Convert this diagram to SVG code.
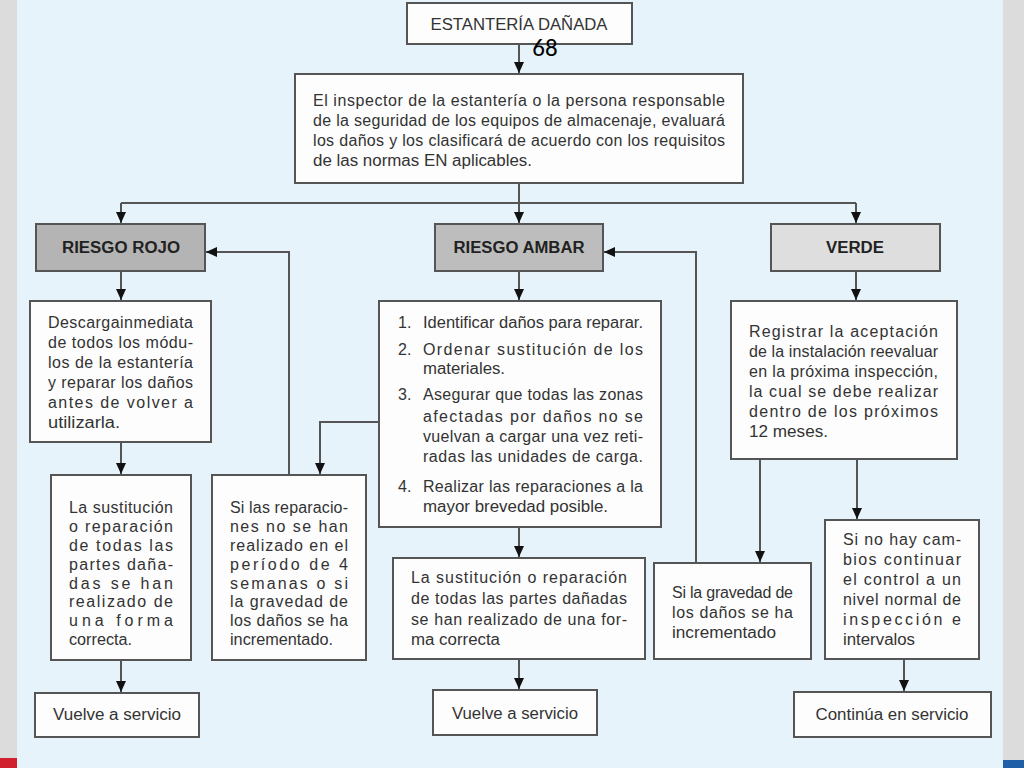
<svg xmlns="http://www.w3.org/2000/svg" width="1024" height="768" viewBox="0 0 1024 768">
<defs>
<marker id="ah" markerUnits="userSpaceOnUse" markerWidth="12" markerHeight="10" refX="11" refY="5" orient="auto">
<path d="M0,0 L11,5 L0,10 z" fill="#111"/>
</marker>
<style>
.box{fill:#fdfdfd;stroke:#555;stroke-width:2}
.g1{fill:#b4b4b4;stroke:#555;stroke-width:2}
.g2{fill:#bdbdbd;stroke:#555;stroke-width:2}
.g3{fill:#dedede;stroke:#555;stroke-width:2}
.t{font-family:"Liberation Sans",Arial,sans-serif;font-size:16px;fill:#333}
.c{text-anchor:middle}
.b{font-weight:bold;fill:#222}
.ln{fill:none;stroke:#555;stroke-width:2}
.ar{fill:none;stroke:#555;stroke-width:2;marker-end:url(#ah)}
</style>
</defs>
<rect x="0" y="0" width="1024" height="768" fill="#dcdcdc"/>
<rect x="17" y="0" width="986" height="768" fill="#e6f3fb"/>
<rect x="0" y="758" width="17" height="10" fill="#d0202e"/>
<rect x="1003" y="760" width="21" height="8" fill="#1f5fa8"/>

<g id="connectors">
<path class="ar" d="M519,44 V73"/>
<path class="ar" d="M519,183 V223"/>
<path class="ln" d="M121,203 H856"/>
<path class="ar" d="M121,203 V223"/>
<path class="ar" d="M856,203 V223"/>
<path class="ar" d="M121,271 V300"/>
<path class="ar" d="M519,271 V300"/>
<path class="ar" d="M856,271 V300"/>
<path class="ar" d="M121,442 V474"/>
<path class="ar" d="M121,660 V692"/>
<path class="ar" d="M289,475 V252 H206"/>
<path class="ar" d="M379,422 H320 V474"/>
<path class="ar" d="M519,527 V557"/>
<path class="ar" d="M519,659 V689"/>
<path class="ar" d="M696,563 V252 H604"/>
<path class="ar" d="M760,459 V562"/>
<path class="ar" d="M857,459 V519"/>
<path class="ar" d="M904,659 V691"/>
</g>

<g id="estanteria">
<rect class="box" x="407" y="3" width="225" height="41"/>
<text class="t c" x="519" y="30" textLength="177" lengthAdjust="spacingAndGlyphs">ESTANTERÍA DAÑADA</text>
</g>
<text x="545" y="56" font-family="Carlito,'Open Sans','Liberation Sans',sans-serif" font-size="25" fill="#000" text-anchor="middle">68</text>

<g id="inspector">
<rect class="box" x="295" y="74" width="448" height="109"/>
<text class="t" x="313" y="106" textLength="412" lengthAdjust="spacing">El inspector de la estantería o la persona responsable</text>
<text class="t" x="313" y="126" textLength="412" lengthAdjust="spacing">de la seguridad de los equipos de almacenaje, evaluará</text>
<text class="t" x="313" y="146" textLength="412" lengthAdjust="spacing">los daños y los clasificará de acuerdo con los requisitos</text>
<text class="t" x="313" y="166" textLength="219" lengthAdjust="spacingAndGlyphs">de las normas EN aplicables.</text>
</g>

<g id="riesgo-rojo">
<rect class="g1" x="36" y="224" width="169" height="47"/>
<text class="t c b" x="121" y="253" textLength="118" lengthAdjust="spacingAndGlyphs">RIESGO ROJO</text>
</g>
<g id="riesgo-ambar">
<rect class="g2" x="435" y="224" width="168" height="47"/>
<text class="t c b" x="519" y="253" textLength="131" lengthAdjust="spacingAndGlyphs">RIESGO AMBAR</text>
</g>
<g id="verde">
<rect class="g3" x="771" y="224" width="169" height="47"/>
<text class="t c b" x="855" y="253" textLength="58" lengthAdjust="spacingAndGlyphs">VERDE</text>
</g>

<g id="descarga">
<rect class="box" x="30" y="301" width="181" height="141"/>
<text class="t" x="48" y="328" textLength="145" lengthAdjust="spacing">Descargainmediata</text>
<text class="t" x="48" y="348" textLength="145" lengthAdjust="spacing">de todos los módu-</text>
<text class="t" x="48" y="368" textLength="145" lengthAdjust="spacing">los de la estantería</text>
<text class="t" x="48" y="388" textLength="145" lengthAdjust="spacing">y reparar los daños</text>
<text class="t" x="48" y="408" textLength="145" lengthAdjust="spacing">antes de volver a</text>
<text class="t" x="48" y="428" textLength="72" lengthAdjust="spacingAndGlyphs">utilizarla.</text>
</g>

<g id="sustitucion-rojo">
<rect class="box" x="51" y="475" width="140" height="185"/>
<text class="t" x="69" y="513" textLength="104" lengthAdjust="spacing">La sustitución</text>
<text class="t" x="69" y="532" textLength="104" lengthAdjust="spacing">o reparación</text>
<text class="t" x="69" y="551" textLength="104" lengthAdjust="spacing">de todas las</text>
<text class="t" x="69" y="570" textLength="104" lengthAdjust="spacing">partes daña-</text>
<text class="t" x="69" y="589" textLength="104" lengthAdjust="spacing">das se han</text>
<text class="t" x="69" y="607" textLength="104" lengthAdjust="spacing">realizado de</text>
<text class="t" x="69" y="626" textLength="104" lengthAdjust="spacing">una forma</text>
<text class="t" x="69" y="645" textLength="63" lengthAdjust="spacingAndGlyphs">correcta.</text>
</g>

<g id="vuelve-rojo">
<rect class="box" x="35" y="693" width="164" height="44"/>
<text class="t c" x="117" y="720" textLength="128" lengthAdjust="spacingAndGlyphs">Vuelve a servicio</text>
</g>

<g id="si-reparaciones">
<rect class="box" x="212" y="475" width="154" height="185"/>
<text class="t" x="230" y="513" textLength="118" lengthAdjust="spacing">Si las reparacio-</text>
<text class="t" x="230" y="532" textLength="118" lengthAdjust="spacing">nes no se han</text>
<text class="t" x="230" y="551" textLength="118" lengthAdjust="spacing">realizado en el</text>
<text class="t" x="230" y="570" textLength="118" lengthAdjust="spacing">período de 4</text>
<text class="t" x="230" y="589" textLength="118" lengthAdjust="spacing">semanas o si</text>
<text class="t" x="230" y="607" textLength="118" lengthAdjust="spacing">la gravedad de</text>
<text class="t" x="230" y="626" textLength="118" lengthAdjust="spacing">los daños se ha</text>
<text class="t" x="230" y="645" textLength="103" lengthAdjust="spacingAndGlyphs">incrementado.</text>
</g>

<g id="lista-ambar">
<rect class="box" x="379" y="301" width="282" height="226"/>
<text class="t" x="398" y="328">1.</text>
<text class="t" x="423" y="328" textLength="220" lengthAdjust="spacingAndGlyphs">Identificar daños para reparar.</text>
<text class="t" x="398" y="355">2.</text>
<text class="t" x="423" y="355" textLength="220" lengthAdjust="spacing">Ordenar sustitución de los</text>
<text class="t" x="423" y="374" textLength="82" lengthAdjust="spacingAndGlyphs">materiales.</text>
<text class="t" x="398" y="400">3.</text>
<text class="t" x="423" y="400" textLength="220" lengthAdjust="spacing">Asegurar que todas las zonas</text>
<text class="t" x="423" y="422" textLength="220" lengthAdjust="spacing">afectadas por daños no se</text>
<text class="t" x="423" y="442" textLength="220" lengthAdjust="spacing">vuelvan a cargar una vez reti-</text>
<text class="t" x="423" y="462" textLength="220" lengthAdjust="spacing">radas las unidades de carga.</text>
<text class="t" x="398" y="492">4.</text>
<text class="t" x="423" y="492" textLength="220" lengthAdjust="spacing">Realizar las reparaciones a la</text>
<text class="t" x="423" y="512" textLength="185" lengthAdjust="spacingAndGlyphs">mayor brevedad posible.</text>
</g>

<g id="sustitucion-ambar">
<rect class="box" x="393" y="558" width="252" height="101"/>
<text class="t" x="411" y="583" textLength="216" lengthAdjust="spacing">La sustitución o reparación</text>
<text class="t" x="411" y="604" textLength="216" lengthAdjust="spacing">de todas las partes dañadas</text>
<text class="t" x="411" y="625" textLength="216" lengthAdjust="spacing">se han realizado de una for-</text>
<text class="t" x="411" y="645" textLength="89" lengthAdjust="spacingAndGlyphs">ma correcta</text>
</g>

<g id="vuelve-ambar">
<rect class="box" x="433" y="690" width="164" height="45"/>
<text class="t c" x="515" y="719" textLength="126" lengthAdjust="spacingAndGlyphs">Vuelve a servicio</text>
</g>

<g id="registrar">
<rect class="box" x="731" y="301" width="226" height="158"/>
<text class="t" x="749" y="337" textLength="189" lengthAdjust="spacing">Registrar la aceptación</text>
<text class="t" x="749" y="357" textLength="189" lengthAdjust="spacing">de la instalación reevaluar</text>
<text class="t" x="749" y="377" textLength="189" lengthAdjust="spacing">en la próxima inspección,</text>
<text class="t" x="749" y="397" textLength="189" lengthAdjust="spacing">la cual se debe realizar</text>
<text class="t" x="749" y="417" textLength="189" lengthAdjust="spacing">dentro de los próximos</text>
<text class="t" x="749" y="437" textLength="79" lengthAdjust="spacingAndGlyphs">12 meses.</text>
</g>

<g id="si-gravedad">
<rect class="box" x="654" y="563" width="157" height="96"/>
<text class="t" x="672" y="598" textLength="121" lengthAdjust="spacing">Si la gravedad de</text>
<text class="t" x="672" y="618" textLength="121" lengthAdjust="spacing">los daños se ha</text>
<text class="t" x="672" y="638" textLength="104" lengthAdjust="spacingAndGlyphs">incrementado</text>
</g>

<g id="si-no-cambios">
<rect class="box" x="825" y="520" width="154" height="139"/>
<text class="t" x="843" y="545" textLength="118" lengthAdjust="spacing">Si no hay cam-</text>
<text class="t" x="843" y="565" textLength="118" lengthAdjust="spacing">bios continuar</text>
<text class="t" x="843" y="585" textLength="118" lengthAdjust="spacing">el control a un</text>
<text class="t" x="843" y="605" textLength="118" lengthAdjust="spacing">nivel normal de</text>
<text class="t" x="843" y="625" textLength="118" lengthAdjust="spacing">inspección e</text>
<text class="t" x="843" y="645" textLength="72" lengthAdjust="spacingAndGlyphs">intervalos</text>
</g>

<g id="continua">
<rect class="box" x="794" y="692" width="197" height="45"/>
<text class="t c" x="892" y="720" textLength="153" lengthAdjust="spacingAndGlyphs">Continúa en servicio</text>
</g>
</svg>
